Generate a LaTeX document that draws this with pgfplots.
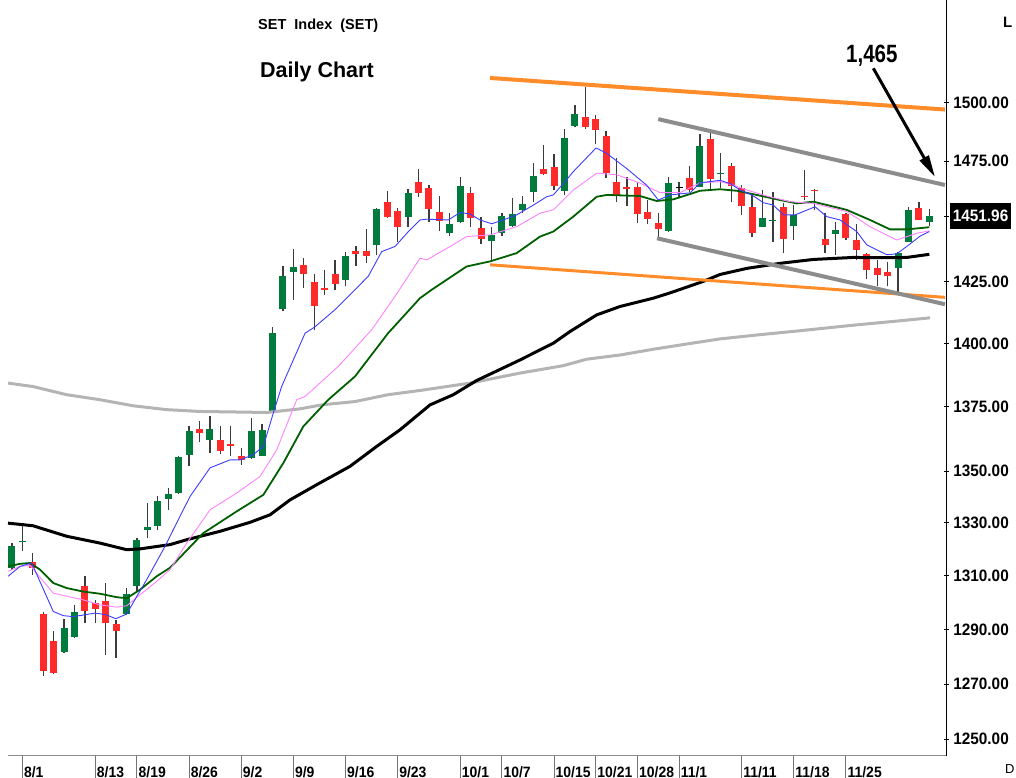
\documentclass[border=0pt]{standalone}
\usepackage{pgfplots}
\pgfplotsset{compat=1.18}
\usepackage{pgfplotstable}
\usepackage{fontspec}
\setmainfont{Liberation Sans}
\newfontfamily\narrowfont[FakeStretch=0.82]{Liberation Sans}
\newfontfamily\tickfont[FakeStretch=0.93]{Liberation Sans}
\usetikzlibrary{arrows.meta}
\definecolor{cgreen}{RGB}{0,122,61}
\definecolor{cred}{RGB}{255,42,42}
\definecolor{wick}{RGB}{60,60,60}
\definecolor{mablue}{RGB}{60,60,255}
\definecolor{maviolet}{RGB}{255,130,255}
\definecolor{madkgreen}{RGB}{0,95,0}
\definecolor{magray}{RGB}{180,180,180}
\definecolor{torange}{RGB}{255,140,40}
\definecolor{tgray}{RGB}{140,140,140}

% candles: index O H L C
\pgfplotstableread{
x O H L C
0 1312.8 1322.2 1312.2 1321.0
1 1322.5 1329.2 1319.1 1322.9
5 1281.8 1293.8 1281.3 1290.4
6 1287.3 1299.0 1286.7 1296.2
11 1295.7 1305.3 1295.2 1303.2
12 1305.9 1324.0 1304.0 1323.5
13 1327.3 1337.4 1324.2 1328.3
14 1328.6 1340.0 1327.3 1338.1
15 1339.1 1343.4 1334.9 1341.0
16 1341.3 1355.7 1341.0 1355.2
17 1356.1 1367.1 1351.6 1365.2
19 1361.9 1371.1 1356.7 1366.1
23 1354.8 1370.4 1354.5 1365.2
24 1355.7 1368.1 1355.4 1365.9
25 1373.0 1406.6 1372.7 1404.1
26 1413.8 1431.2 1412.9 1427.4
27 1429.1 1438.3 1417.6 1430.9
32 1425.5 1437.3 1423.1 1435.6
35 1440.1 1455.2 1436.0 1454.9
38 1451.5 1463.2 1447.4 1461.8
42 1445.0 1453.5 1443.8 1448.8
43 1449.7 1468.3 1449.3 1464.6
46 1441.8 1447.4 1433.2 1444.2
47 1445.0 1453.5 1443.8 1452.1
48 1447.9 1459.4 1447.4 1452.8
49 1454.6 1460.4 1453.2 1457.1
50 1462.2 1474.4 1458.0 1468.6
53 1462.6 1488.6 1460.8 1485.0
54 1489.9 1499.0 1489.6 1494.9
63 1445.9 1468.5 1445.5 1466.0
66 1464.2 1486.6 1464.0 1481.4
68 1469.5 1478.6 1463.6 1469.9
72 1447.6 1462.9 1447.3 1451.1
73 1449.9 1462.2 1441.4 1450.4
75 1447.9 1456.6 1442.1 1452.5
79 1444.7 1449.7 1436.0 1446.3
85 1430.5 1437.3 1420.6 1436.9
86 1441.4 1455.7 1441.2 1454.6
88 1449.7 1454.9 1447.9 1451.96
}\greendata

\pgfplotstableread{
x O H L C
2 1315.1 1318.5 1310.3 1313.0
3 1295.6 1296.2 1272.9 1274.5
4 1285.7 1289.2 1273.5 1273.9
7 1306.2 1309.7 1292.5 1296.9
8 1299.7 1300.9 1292.3 1297.5
9 1300.5 1307.2 1280.6 1292.5
10 1292.0 1293.5 1279.4 1289.5
18 1366.1 1369.1 1360.9 1364.6
20 1361.9 1367.1 1356.5 1357.6
21 1360.4 1367.4 1355.7 1359.3
22 1355.4 1358.7 1352.2 1354.1
28 1431.9 1434.6 1422.4 1428.1
29 1424.7 1428.2 1405.2 1415.2
30 1422.4 1429.8 1419.6 1421.4
31 1428.2 1433.9 1421.4 1424.1
33 1437.6 1439.4 1431.5 1436.4
34 1437.6 1446.6 1432.8 1435.6
36 1458.0 1462.6 1451.2 1451.5
37 1454.1 1455.3 1441.4 1447.6
39 1466.4 1471.6 1460.1 1461.5
40 1463.6 1465.0 1449.7 1454.9
41 1453.9 1460.5 1446.0 1450.0
44 1461.5 1464.0 1447.4 1451.1
45 1446.9 1451.8 1440.5 1442.4
51 1471.7 1481.9 1469.3 1469.6
52 1472.7 1478.0 1462.9 1464.6
55 1493.9 1506.8 1488.6 1489.6
56 1492.9 1494.6 1482.3 1488.2
57 1485.9 1487.6 1467.8 1470.2
58 1466.4 1476.2 1458.0 1460.8
59 1464.0 1468.5 1456.2 1463.3
60 1464.2 1466.4 1449.3 1452.9
61 1453.9 1458.7 1448.8 1450.8
62 1449.1 1453.2 1442.9 1446.7
65 1467.8 1473.0 1462.2 1462.8
67 1484.3 1487.2 1462.9 1467.4
69 1473.0 1474.4 1458.0 1464.6
70 1463.6 1465.0 1452.5 1456.2
71 1455.7 1460.8 1443.3 1445.0
74 1455.7 1457.3 1436.7 1442.4
76 1460.5 1471.3 1458.7 1460.0
77 1463.0 1463.2 1454.6 1462.5
78 1442.4 1453.2 1436.7 1440.1
80 1452.9 1453.5 1442.1 1442.9
81 1442.1 1448.8 1433.9 1438.0
82 1436.4 1436.6 1426.0 1429.8
83 1430.5 1433.9 1423.1 1427.8
84 1428.9 1432.9 1423.1 1427.1
87 1455.3 1458.0 1450.2 1450.4
}\reddata

% doji drawn in black
\pgfplotstableread{
x O H L C
64 1463.6 1466.4 1459.4 1464.1
}\dojidata

% one wick (L-H) and one body (O-C) \addplot per table row
\gdef\candleplots{}
\newcommand\makecandleplots[2]{%
  \pgfplotstablegetrowsof{#1}%
  \pgfmathtruncatemacro\lastrow{\pgfplotsretval-1}%
  \foreach \rr in {0,...,\lastrow}{%
    \pgfplotstablegetelem{\rr}{x}\of{#1}\let\cx\pgfplotsretval
    \pgfplotstablegetelem{\rr}{O}\of{#1}\let\co\pgfplotsretval
    \pgfplotstablegetelem{\rr}{H}\of{#1}\let\ch\pgfplotsretval
    \pgfplotstablegetelem{\rr}{L}\of{#1}\let\cl\pgfplotsretval
    \pgfplotstablegetelem{\rr}{C}\of{#1}\let\cc\pgfplotsretval
    \xdef\candleplots{\unexpanded\expandafter{\candleplots}%
      \noexpand\addplot[wick,line width=1.3pt,forget plot] coordinates {(\cx,\cl) (\cx,\ch)};%
      \noexpand\addplot[#2,line width=7pt,forget plot] coordinates {(\cx,\co) (\cx,\cc)};}%
  }%
}
\makecandleplots{\greendata}{cgreen}
\makecandleplots{\reddata}{cred}
\makecandleplots{\dojidata}{black}

\begin{document}
\begin{tikzpicture}
\useasboundingbox (-8pt,-22.3pt) rectangle (1008pt,755.7pt);
\begin{axis}[
  at={(0pt,0pt)}, anchor=south west,
  scale only axis, width=938pt, height=755.7pt,
  xmin=-0.372, xmax=89.6,
  % logarithmic price scale
  y coord trafo/.code={\pgfmathparse{1000*ln(#1/1400)}},
  ymin=1244.2, ymax=1544.7,
  axis x line*=bottom, axis y line*=right,
  axis line style={-},
  x axis line style={black!45, line width=0.8pt},
  y axis line style={black, line width=0.8pt},
  xtick={1,8,12,17,22,27,32,37,43,47,52,56,60,64,70,75,80},
  xticklabels={8/1,8/13,8/19,8/26,9/2,9/9,9/16,9/23,10/1,10/7,10/15,10/21,10/28,11/1,11/11,11/18,11/25},
  xtick align=outside,
  xtick style={/pgfplots/major tick length=22.3pt, black!55, line width=1pt},
  xticklabel style={font=\tickfont\bfseries\fontsize{15}{16}\selectfont, anchor=base west, inner sep=0pt, xshift=1.5pt, yshift=-17.5pt},
  ytick={1250,1270,1290,1310,1330,1350,1375,1400,1425,1475,1500},
  yticklabels={1250.00,1270.00,1290.00,1310.00,1330.00,1350.00,1375.00,1400.00,1425.00,1475.00,1500.00},
  ytick align=center,
  ytick style={/pgfplots/major tick length=5pt, black, line width=0.8pt},
  yticklabel style={font=\tickfont\bfseries\fontsize{16.5}{17}\selectfont, anchor=west, inner sep=0pt, xshift=5pt},
  extra y ticks={1451.96},
  extra y tick labels={1451.96},
  extra y tick style={yticklabel style={fill=black, text=white, inner xsep=2.5pt, inner ysep=7pt, xshift=-3pt}},
  clip=true,
]
% candles
\candleplots

% 200-day MA (gray)
\addplot[magray, line width=3pt, line join=round] coordinates {
(-0.37,1384.2) (2.03,1382.8) (5.26,1379.6) (8.45,1377.6) (11.62,1375.2) (14.85,1373.7)
(18.05,1373.0) (21.21,1372.8) (24.44,1372.6) (27.64,1374.0) (29.72,1375.6) (32.91,1376.9)
(36.08,1379.6) (39.15,1381.3) (43.95,1384.2) (48.74,1388.2) (52.9,1391.1) (55.14,1393.7)
(58.33,1395.4) (61.53,1397.7) (64.73,1399.8) (67.93,1401.8) (71.76,1403.5) (75.6,1405.1)
(80.39,1407.2) (85.19,1409.1) (88.07,1410.3)};
% 50-day MA (black)
\addplot[black, line width=3pt, line join=round] coordinates {
(-0.37,1329.8) (1.1,1329.2) (2.03,1328.8) (5.26,1324.8) (8.45,1322.2) (11.01,1319.7)
(12.29,1320.0) (15.17,1321.6) (16.77,1323.5) (19.96,1326.7) (22.84,1330.1) (24.76,1333.0)
(26.68,1338.7) (29.24,1344.5) (32.43,1351.6) (34.99,1359.3) (37.23,1365.8) (40.11,1375.6)
(42.34,1379.6) (44.59,1385.2) (48.74,1393.4) (51.94,1400.1) (53.54,1404.8) (56.1,1411.5)
(58.33,1414.9) (61.53,1418.3) (63.13,1420.4) (66.32,1425.1) (67.93,1427.9) (70.49,1430.4)
(73.68,1432.5) (76.88,1434.1) (80.68,1434.9) (83.92,1434.8) (85.83,1434.9) (88.0,1436.2)};
% dark green MA
\addplot[madkgreen, line width=1.8pt, line join=round] coordinates {
(-0.37,1313.4) (0.78,1314.4) (1.74,1314.7) (2.70,1312.2) (3.97,1307.2) (5.26,1305.3)
(6.85,1304.0) (8.45,1303.2) (10.05,1301.9) (11.01,1301.5) (12.29,1304.7) (13.89,1309.7)
(15.17,1312.9) (18.36,1326.0) (21.57,1334.3) (24.12,1340.6) (26.04,1352.9) (27.95,1367.1)
(30.35,1377.6) (32.91,1386.8) (36.08,1404.1) (39.15,1418.3) (40.27,1421.7) (43.62,1431.2)
(45.86,1433.3) (48.42,1436.7) (50.66,1443.5) (51.93,1445.6) (53.85,1451.8) (56.10,1460.1)
(57.06,1460.8) (60.25,1460.4) (61.85,1458.3) (63.45,1459.0) (65.05,1461.2) (66.01,1462.6)
(67.93,1463.2) (69.53,1462.6) (71.45,1460.8) (73.68,1458.7) (75.28,1457.3) (76.88,1458.0)
(79.44,1455.3) (80.08,1454.6) (82.31,1450.4) (84.23,1446.5) (85.83,1446.5) (88.0,1447.4)};
% violet MA
\addplot[maviolet, line width=0.9pt, line join=round] coordinates {
(-0.37,1311.6) (0.78,1313.4) (1.74,1313.8) (3.97,1303.4) (6.85,1300.9) (8.45,1299.0)
(10.05,1298.2) (11.01,1298.7) (12.29,1302.8) (13.89,1307.8) (15.17,1312.2) (16.77,1322.2)
(19.01,1334.9) (21.57,1341.3) (23.80,1347.7) (25.4,1358.0) (27.32,1377.6) (28.12,1378.9) (31.31,1390.8)
(34.52,1405.5) (36.75,1419.0) (39.15,1434.6) (39.79,1433.9) (42.03,1439.4) (43.62,1443.5)
(45.86,1444.2) (48.42,1447.6) (50.66,1453.2) (51.93,1454.6) (53.85,1462.9) (56.10,1470.0)
(58.02,1469.3) (60.25,1465.8) (62.17,1461.8) (64.09,1461.8) (66.01,1465.9) (67.93,1466.4)
(69.20,1465.0) (70.49,1462.9) (72.40,1460.4) (74.64,1458.0) (76.88,1457.3) (79.44,1454.6)
(80.08,1453.9) (82.31,1447.6) (84.87,1442.1) (86.79,1444.9) (88.0,1445.9)};
% blue MA
\addplot[mablue, line width=0.9pt, line join=round] coordinates {
(-0.37,1309.7) (0.78,1313.4) (1.9,1314.7) (3.97,1296.6) (4.93,1295.0) (5.89,1294.7)
(7.97,1296.0) (9.0,1295.4) (9.96,1293.9) (11.01,1295.6) (11.97,1302.1) (12.93,1308.4)
(14.69,1321.0) (15.48,1327.3) (17.09,1340.0) (19.01,1351.0) (20.92,1354.1) (21.88,1354.1)
(23.16,1356.1) (24.12,1359.3) (25.08,1372.4) (25.88,1382.9) (28.12,1404.1) (29.08,1406.7)
(30.99,1413.6) (32.91,1421.7) (34.19,1427.2) (35.47,1437.3) (36.75,1439.4) (38.03,1445.6)
(39.15,1450.4) (39.79,1450.7) (41.86,1450.4) (42.99,1453.5) (43.95,1452.9) (44.90,1450.4)
(46.02,1448.8) (47.14,1450.4) (48.42,1452.5) (50.02,1456.6) (51.30,1460.1) (51.93,1460.8)
(53.06,1466.4) (53.85,1470.6) (56.03,1480.6) (57.06,1478.3) (58.98,1471.9) (60.89,1464.9)
(62.01,1458.7) (63.13,1460.8) (65.05,1461.7) (66.01,1465.9) (67.93,1467.0) (68.89,1465.6)
(69.85,1462.9) (70.97,1460.8) (72.08,1457.6) (73.04,1456.6) (74.00,1452.5) (75.12,1452.5)
(77.04,1455.9) (78.16,1451.8) (79.44,1450.4) (81.04,1445.6) (82.0,1440.1) (83.92,1436.0)
(84.87,1436.4) (85.83,1439.4) (87.11,1443.7) (88.0,1445.6)};

% trend lines
\addplot[torange, line width=4pt] coordinates {(45.86,1510.6) (89.5,1497.0)};
\addplot[torange, line width=3pt] coordinates {(45.86,1431.9) (89.5,1418.6)};
\addplot[tgray, line width=4pt] coordinates {(62.0,1492.9) (89.5,1465.0)};
\addplot[tgray, line width=4pt] coordinates {(61.88,1442.8) (89.5,1415.8)};
\end{axis}

% annotations (picture coordinates: 1pt = 1px of the reference)
\node[anchor=base west, inner sep=0pt, font=\bfseries\fontsize{14.5}{15}\selectfont] at (250pt,726.4pt) {SET\ \ Index\ \ (SET)};
\node[anchor=base west, inner sep=0pt, font=\bfseries\fontsize{21.5}{22}\selectfont] at (252pt,678.4pt) {Daily Chart};
\node[anchor=base west, inner sep=0pt, font=\narrowfont\bfseries\fontsize{25}{26}\selectfont] at (838pt,693pt) {1,465};
\draw[black, line width=3pt, -{Triangle[length=22pt,width=10pt]}] (865.3pt,687.4pt) -- (927pt,578.7pt);
\node[anchor=base west, inner sep=0pt, font=\bfseries\fontsize{15}{16}\selectfont] at (995pt,727.7pt) {L};
\node[anchor=base west, inner sep=0pt, font=\fontsize{13}{14}\selectfont] at (997pt,-18pt) {D};
\end{tikzpicture}
\end{document}
